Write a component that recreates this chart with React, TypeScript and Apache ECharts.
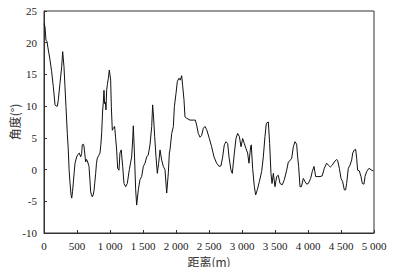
import React, { useEffect, useRef } from "react";
import * as echarts from "echarts";

const distance = [0,15,30,45,60,91,115,141,167,185,202,217,242,268,283,303,318,333,353,368,380,394,410,420,432,444,457,470,495,515,535,556,570,580,595,606,620,631,645,656,682,695,707,720,732,745,758,770,783,795,808,828,848,862,874,889,898,909,918,930,939,949,960,975,990,1000,1010,1020,1035,1050,1070,1085,1101,1116,1136,1151,1170,1177,1192,1212,1238,1262,1293,1328,1345,1353,1368,1389,1404,1429,1454,1480,1505,1530,1556,1580,1606,1632,1646,1660,1677,1697,1717,1737,1758,1783,1808,1833,1859,1884,1899,1909,1935,1960,1975,2000,2020,2045,2065,2086,2100,2121,2136,2160,2212,2262,2293,2313,2338,2364,2389,2414,2439,2465,2505,2540,2576,2616,2652,2682,2707,2732,2758,2783,2803,2833,2853,2884,2909,2934,2960,2985,3010,3035,3061,3085,3106,3131,3141,3161,3187,3207,3232,3263,3298,3323,3348,3369,3399,3419,3439,3455,3475,3500,3525,3550,3576,3611,3641,3677,3702,3727,3753,3778,3803,3828,3843,3858,3879,3900,3929,3955,3980,4005,4040,4065,4091,4116,4150,4182,4215,4247,4283,4308,4338,4368,4399,4434,4450,4475,4500,4525,4550,4570,4585,4611,4636,4662,4677,4702,4722,4737,4752,4777,4803,4823,4848,4864,4889,4924,4965,4990];

const angle = [23.0,22.5,20.4,20.2,19.2,17.3,15.5,13.1,10.2,10.0,10.0,11.0,13.6,16.2,18.6,16.2,13.0,9.9,5.7,3.1,0.0,-2.1,-4.0,-4.5,-3.5,-2.1,-0.5,1.0,2.0,2.4,2.6,2.0,2.5,3.9,4.0,3.7,2.3,1.2,1.6,1.4,0.5,-1.5,-3.5,-4.0,-4.3,-4.0,-3.3,-2.0,-0.6,1.0,1.8,2.2,2.6,4.0,5.8,9.4,10.5,12.5,10.4,10.6,9.4,12.5,13.4,14.4,15.7,15.7,14.1,10.0,6.2,6.5,6.8,5.0,3.1,0.2,-0.1,2.6,3.1,3.1,0.5,-2.2,-2.7,-2.2,0.0,2.0,5.0,6.9,3.1,-3.2,-5.6,-3.2,-1.6,-1.1,0.5,1.0,2.0,2.3,3.9,6.8,10.2,8.3,5.2,2.0,-0.6,1.0,3.1,1.5,0.5,0.0,-3.7,-0.5,2.6,3.1,5.7,6.8,9.9,12.0,13.9,14.4,14.1,14.8,13.3,11.0,8.3,8.1,7.8,7.8,7.8,7.0,5.7,5.1,5.4,6.5,6.8,6.3,4.9,3.6,2.0,1.0,0.5,0.6,2.0,3.9,4.4,4.1,2.0,-0.1,-0.6,2.6,4.9,5.7,5.2,3.6,4.9,4.1,3.3,2.6,1.0,3.6,3.9,0.2,-2.7,-4.0,-3.2,-1.9,-0.3,2.0,5.2,7.3,7.5,4.1,-0.6,-2.2,-0.6,-2.7,-1.1,-0.9,-2.2,-2.4,-1.6,-0.1,1.2,1.4,1.8,3.6,4.4,4.0,2.0,0.5,-2.7,-2.7,-1.4,-1.9,-2.3,-2.2,-1.4,-0.3,0.5,-1.1,-1.1,-1.1,-1.0,0.2,1.0,0.7,0.4,0.7,1.2,1.6,1.4,0.2,-1.4,-1.9,-3.2,-3.2,-2.2,0.2,0.7,1.5,2.6,3.1,3.2,1.8,-0.1,-0.2,-1.1,-2.2,-2.3,-1.1,-0.3,0.2,-0.1,-0.2];

const xName = "距离(m)";
const yName = "角度(°)";

const fontFamily = "Liberation Serif";
const cjkFont = "Noto Sans CJK SC";

function fmtThousands(v: number): string {
  const s = String(Math.round(v));
  return s.replace(/\B(?=(\d{3})+(?!\d))/g, " ");
}

export default function App() {
  const ref = useRef<HTMLDivElement>(null);
  useEffect(() => {
    if (!ref.current) return;
    const chart = echarts.init(ref.current, null, { renderer: "svg" });
    const data = distance.map((d, i) => [d, angle[i]]);
    chart.setOption({
      animation: false,
      backgroundColor: "#fff",
      grid: {
        left: 44,
        right: 25,
        top: 11,
        bottom: 42,
        containLabel: false,
        outerBoundsMode: "none",
        show: true,
        borderColor: "#333",
        borderWidth: 1,
        backgroundColor: "transparent",
      },
      graphic: [
        {
          type: "text",
          x: 14,
          y: 122,
          rotation: Math.PI / 2,
          style: {
            text: yName,
            fontFamily: cjkFont,
            fontSize: 12,
            fill: "#333",
            align: "center",
            verticalAlign: "middle",
          },
        },
      ],
      xAxis: {
        type: "value",
        min: 0,
        max: 5000,
        interval: 500,
        name: xName,
        nameLocation: "middle",
        nameGap: 21,
        nameTextStyle: { fontFamily: cjkFont, fontSize: 12, color: "#333" },
        axisLine: { show: true, onZero: false, lineStyle: { color: "#333", width: 1 } },
        axisTick: { show: true, inside: true, length: 3, lineStyle: { color: "#333" } },
        axisLabel: {
          fontFamily,
          fontSize: 11,
          color: "#222",
          margin: 7,
          formatter: (v: number) => fmtThousands(v),
        },
        splitLine: { show: false },
      },
      yAxis: {
        type: "value",
        min: -10,
        max: 25,
        interval: 5,
        axisLine: { show: true, onZero: false, lineStyle: { color: "#333", width: 1 } },
        axisTick: { show: true, inside: true, length: 3, lineStyle: { color: "#333" } },
        axisLabel: { fontFamily, fontSize: 11, color: "#222", margin: 7 },
        splitLine: { show: false },
      },
      series: [
        {
          type: "line",
          data,
          showSymbol: false,
          symbol: "none",
          lineStyle: { color: "#111", width: 1 },
          smooth: false,
        },
      ],
    });
    return () => chart.dispose();
  }, []);
  return (
    <div style={{ margin: -8 }}>
      <div ref={ref} style={{ width: 399, height: 275 }} />
    </div>
  );
}
